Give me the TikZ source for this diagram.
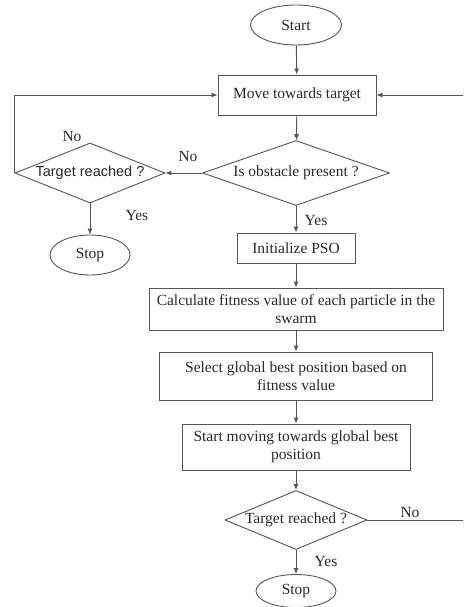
\documentclass[tikz,border=0pt]{standalone}
\usepackage{fontspec}
\setmainfont{Liberation Serif}
\newfontfamily\arialfont{Liberation Sans}
\usetikzlibrary{shapes.geometric,arrows.meta}
\definecolor{ln}{RGB}{85,85,85}
\definecolor{tx}{RGB}{40,40,40}
\begin{document}
\begin{tikzpicture}[x=1pt,y=1pt,
  every node/.style={font=\fontsize{15.5}{18.5}\selectfont, text=tx},
  box/.style={draw=ln, line width=0.9pt, rectangle, inner sep=0pt, align=center},
  oval/.style={draw=ln, line width=0.9pt, ellipse, inner sep=0pt},
  dmd/.style={draw=ln, line width=0.9pt, diamond, inner sep=0pt},
  arr/.style={draw=ln, line width=0.9pt, -{Latex[length=6pt,width=5pt]}},
  lbl/.style={inner sep=0pt}]
\useasboundingbox (0,0) rectangle (463,-607);
\clip (0,0) rectangle (463,-607);
\node[oval, minimum width=91, minimum height=40] (start) at (296,-25) {Start};
\node[box, minimum width=158, minimum height=40] (move) at (297,-95) {Move towards target};
\node[dmd, aspect=2.88, minimum width=187, minimum height=65] (obs) at (296,-173) {Is obstacle present ?};
\node[dmd, aspect=2.5, minimum width=150, minimum height=60, font=\arialfont\fontsize{14.5}{17}\selectfont] (tr1) at (90,-173) {Target reached ?};
\node[oval, minimum width=80, minimum height=40] (stop1) at (90,-255) {Stop};
\node[box, minimum width=118, minimum height=30] (init) at (296,-248) {Initialize PSO};
\node[box, minimum width=294, minimum height=42] (calc) at (296,-309) {Calculate fitness value of each particle in the\\swarm};
\node[box, minimum width=273, minimum height=48] (sel) at (296,-376) {Select global best position based on\\fitness value};
\node[box, minimum width=228, minimum height=46] (smv) at (296,-447) {Start moving towards global best\\position};
\node[dmd, aspect=2.4, minimum width=142, minimum height=59] (tr2) at (296,-520) {Target reached ?};
\node[oval, minimum width=80, minimum height=33] (stop2) at (296,-591) {Stop};
\coordinate (rc) at (470,-520);
\coordinate (rt) at (470,-95);

\draw[arr] (start) -- (move);
\draw[arr] (move) -- (obs);
\draw[arr] (obs.west) -- (tr1.east);
\draw[arr] (tr1.west) |- (move.west);
\draw[arr] (tr1) -- (stop1);
\draw[arr] (obs) -- (init);
\draw[arr] (init) -- (calc);
\draw[arr] (calc) -- (sel);
\draw[arr] (sel) -- (smv);
\draw[arr] (smv) -- (tr2);
\draw[arr] (tr2) -- (stop2);
\draw[arr] (tr2.east) -- (rc) -- (rt) -- (move.east);

\node[lbl] (n1) at (188,-157) {No};
\node[lbl] (n2) at (72,-137) {No};
\node[lbl] (y1) at (137,-215) {Yes};
\node[lbl] (y2) at (316,-220) {Yes};
\node[lbl] (y3) at (326,-561) {Yes};
\node[lbl] (n3) at (410,-512) {No};
\end{tikzpicture}
\end{document}
